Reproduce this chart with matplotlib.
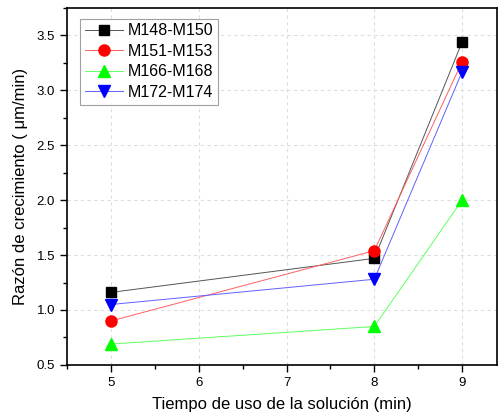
import numpy as np
import matplotlib.pyplot as plt
from matplotlib.ticker import MultipleLocator

plt.rcParams['font.family'] = ['Liberation Sans', 'DejaVu Sans']

tiempo = [5, 8, 9]
m148_m150 = [1.16, 1.47, 3.44]
m151_m153 = [0.90, 1.54, 3.26]
m166_m168 = [0.69, 0.85, 2.00]
m172_m174 = [1.05, 1.28, 3.17]

series = [
    ('M148-M150', m148_m150, 's', '#000000', '#555555', 7),
    ('M151-M153', m151_m153, 'o', '#ff0000', '#ff6060', 8),
    ('M166-M168', m166_m168, '^', '#00ff00', '#60ff60', 9),
    ('M172-M174', m172_m174, 'v', '#0000ff', '#6060ff', 9),
]

fig = plt.figure(figsize=(4.98, 4.18), dpi=100)
ax = fig.add_axes([0.1345, 0.127, 0.864, 0.854])

for label, vals, mk, mcol, lcol, ms in series:
    ax.plot(tiempo, vals, color=lcol, linewidth=0.7, marker=mk, markersize=ms,
            markerfacecolor=mcol, markeredgecolor=mcol, label=label)

ax.set_xlim(4.5, 9.4)
ax.set_ylim(0.5, 3.75)
ax.xaxis.set_major_locator(MultipleLocator(1))
ax.xaxis.set_minor_locator(MultipleLocator(0.5))
ax.yaxis.set_major_locator(MultipleLocator(0.5))
ax.yaxis.set_minor_locator(MultipleLocator(0.25))
ax.tick_params(which='major', direction='out', length=5, width=1, labelsize=9.5)
ax.tick_params(which='minor', direction='out', length=3, width=1)
ax.grid(True, which='major', linestyle=(0, (3, 3)), color='#dddddd', linewidth=0.8)
ax.set_axisbelow(True)
for side in ['left', 'bottom', 'top', 'right']:
    ax.spines[side].set_linewidth(1.2)

ax.set_xlabel('Tiempo de uso de la solución (min)', fontsize=12, labelpad=6)
ax.set_ylabel('Razón de crecimiento ( μm/min)', fontsize=12, labelpad=6)

leg = ax.legend(loc='upper left', bbox_to_anchor=(0.03, 0.97), borderaxespad=0,
                fontsize=11.5, frameon=True, fancybox=False, handlelength=2.4,
                handletextpad=0.3, labelspacing=0.34, borderpad=0.3)
leg.get_frame().set_edgecolor('#888888')
leg.get_frame().set_linewidth(0.8)

fig.savefig('out.png', dpi=100)
